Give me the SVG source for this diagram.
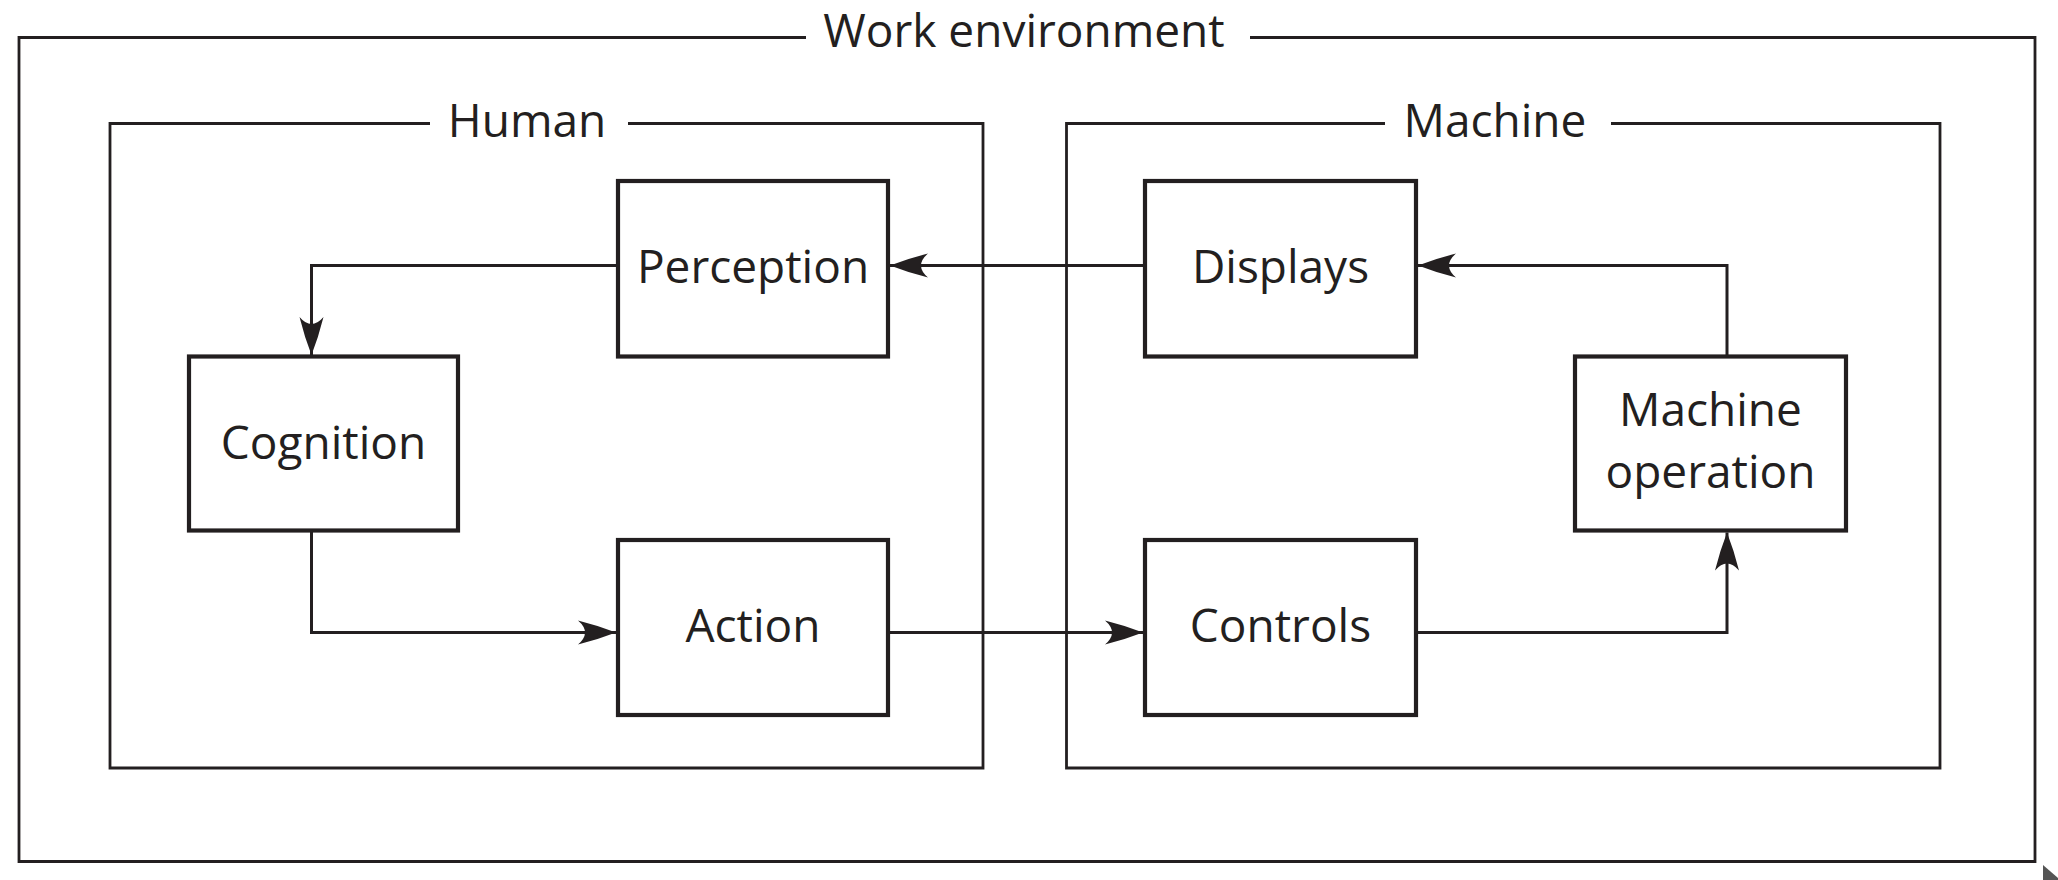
<svg xmlns="http://www.w3.org/2000/svg" width="2058" height="880" viewBox="0 0 2058 880">
<style>
.frame{fill:none;stroke:#231f20;stroke-width:2.8}
.node{fill:#ffffff;stroke:#231f20;stroke-width:4.2}
.conn{fill:none;stroke:#231f20;stroke-width:3}
.lbl{font-family:"Open Sans","Noto Sans","Liberation Sans",sans-serif;font-size:46px;fill:#231f20;text-anchor:middle}
</style>
<defs>
<marker id="arr" markerUnits="userSpaceOnUse" markerWidth="42" markerHeight="30" refX="38" refY="13" orient="auto">
<path d="M38,13 Q20,6 0,1 Q7,7 7,13 Q7,19 0,25 Q20,20 38,13 Z" fill="#231f20"/>
</marker>
</defs>
<rect width="2058" height="880" fill="#ffffff"/>
<g id="work-environment">
<path class="frame" d="M806,37.5 H19 V861.5 H2035 V37.5 H1250"/>
<text class="lbl" x="1024" y="47">Work environment</text>
</g>
<g id="human">
<path class="frame" d="M430,123.5 H110 V768 H983 V123.5 H628"/>
<text class="lbl" x="527" y="137">Human</text>
</g>
<g id="machine">
<path class="frame" d="M1385,123.5 H1066.5 V768 H1940 V123.5 H1611"/>
<text class="lbl" x="1495" y="137">Machine</text>
</g>
<g id="connectors">
<path class="conn" d="M1145,265.5 H890" marker-end="url(#arr)"/>
<path class="conn" d="M618,265.5 H311.5 V355" marker-end="url(#arr)"/>
<path class="conn" d="M311.5,530 V632.5 H616" marker-end="url(#arr)"/>
<path class="conn" d="M888,632.5 H1143" marker-end="url(#arr)"/>
<path class="conn" d="M1416,632.5 H1727 V532.5" marker-end="url(#arr)"/>
<path class="conn" d="M1727,356.5 V265.5 H1418" marker-end="url(#arr)"/>
</g>
<g id="perception">
<rect class="node" x="618" y="181" width="270" height="175.5"/>
<text class="lbl" x="753" y="283">Perception</text>
</g>
<g id="cognition">
<rect class="node" x="189" y="356.5" width="269" height="174"/>
<text class="lbl" x="323.5" y="459">Cognition</text>
</g>
<g id="action">
<rect class="node" x="618" y="540" width="270" height="175"/>
<text class="lbl" x="753" y="642">Action</text>
</g>
<g id="displays">
<rect class="node" x="1145" y="181" width="271" height="175.5"/>
<text class="lbl" x="1280.5" y="283">Displays</text>
</g>
<g id="controls">
<rect class="node" x="1145" y="540" width="271" height="175"/>
<text class="lbl" x="1280.5" y="642">Controls</text>
</g>
<g id="machine-operation">
<rect class="node" x="1575" y="356.5" width="271" height="174"/>
<text class="lbl" x="1710.5" y="426">Machine</text>
<text class="lbl" x="1710.5" y="488">operation</text>
</g>
<polygon points="2043,865 2043,880 2058,880 2058,878" fill="#555555"/>
</svg>
